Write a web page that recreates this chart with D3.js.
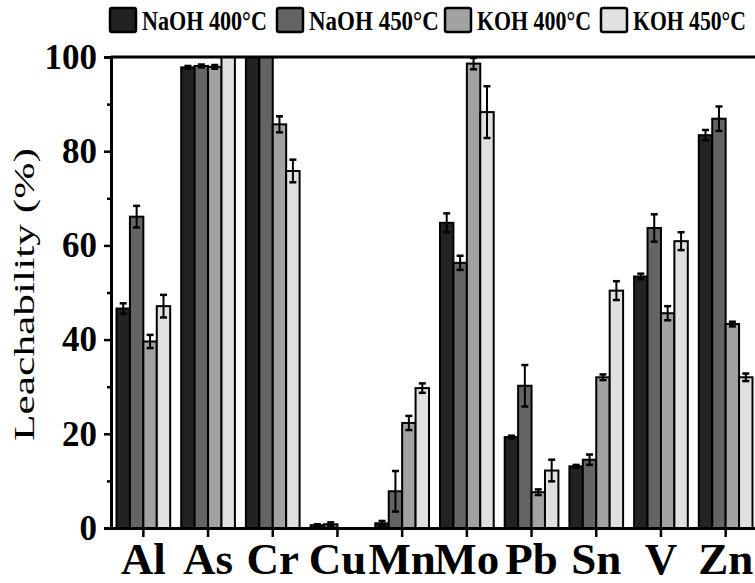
<!DOCTYPE html>
<html>
<head>
<meta charset="utf-8">
<script src="https://cdn.jsdelivr.net/npm/d3@7"></script>
<style>
  html, body { margin: 0; padding: 0; background: #fff; }
  svg { display: block; }
  text { font-family: "Liberation Serif", "Times New Roman", serif; }
</style>
</head>
<body>
<svg id="chart" width="755" height="583"></svg>
<script>
const categories = ["Al", "As", "Cr", "Cu", "Mn", "Mo", "Pb", "Sn", "V", "Zn"];
const seriesNames = ["NaOH 400°C", "NaOH 450°C", "KOH 400°C", "KOH 450°C"];
const naoh400 =    [46.6, 97.8, 100, 0.6, 1.0, 64.8, 19.3, 13.1, 53.4, 83.4];
const naoh400Err = [1.1, 0.3, 0, 0.2, 0.5, 2.0, 0.3, 0.3, 0.6, 1.1];
const naoh450 =    [66.1, 98.1, 100, 0.8, 7.8, 56.3, 30.2, 14.5, 63.7, 86.9];
const naoh450Err = [2.3, 0.3, 0, 0.4, 4.3, 1.5, 4.4, 1.1, 2.9, 2.6];
const koh400 =     [39.6, 97.9, 85.7, 0, 22.3, 98.6, 7.6, 32.0, 45.6, 43.3];
const koh400Err =  [1.4, 0.4, 1.7, 0, 1.5, 1.2, 0.6, 0.6, 1.5, 0.5];
const koh450 =     [47.1, 100, 75.8, 0, 29.7, 88.3, 12.2, 50.4, 60.9, 32.0];
const koh450Err =  [2.4, 0, 2.4, 0, 1.0, 5.5, 2.3, 2.0, 1.9, 0.8];
const yTicks = [0, 20, 40, 60, 80, 100];
const yMinorTicks = [10, 30, 50, 70, 90];
const yTitle = "Leachability (%)";

const seriesValues = [naoh400, naoh450, koh400, koh450];
const seriesErrors = [naoh400Err, naoh450Err, koh400Err, koh450Err];
const colors = ["#222222", "#646464", "#a2a2a2", "#e0e0e0"];

const svg = d3.select("#chart");
const mLeft = 111, mTop = 57, mBottom = 528, mRight = 758;

const x = d3.scaleBand().domain(categories).range([mLeft, mRight])
  .paddingInner(0.17).paddingOuter(0.085);
const x1 = d3.scaleBand().domain(seriesNames).range([0, x.bandwidth()]).padding(0);
const y = d3.scaleLinear().domain([0, 100]).range([mBottom, mTop]);

svg.append("clipPath").attr("id", "plotclip")
  .append("rect").attr("x", mLeft).attr("y", mTop).attr("width", mRight - mLeft).attr("height", mBottom - mTop);

const plot = svg.append("g").attr("clip-path", "url(#plotclip)");

const rows = [];
categories.forEach((c, i) => {
  seriesNames.forEach((s, j) => {
    rows.push({ cat: c, ser: s, j: j, v: seriesValues[j][i], e: seriesErrors[j][i] });
  });
});

plot.selectAll("rect.bar").data(rows.filter(d => d.v > 0)).join("rect")
  .attr("class", "bar")
  .attr("x", d => x(d.cat) + x1(d.ser))
  .attr("y", d => y(d.v))
  .attr("width", x1.bandwidth())
  .attr("height", d => y(0) - y(d.v))
  .attr("fill", d => colors[d.j])
  .attr("stroke", "#000")
  .attr("stroke-width", 2);

const eb = plot.selectAll("g.err").data(rows.filter(d => d.e > 0)).join("g").attr("class", "err");
const cx = d => x(d.cat) + x1(d.ser) + x1.bandwidth() / 2;
eb.append("line")
  .attr("x1", cx).attr("x2", cx)
  .attr("y1", d => y(d.v + d.e)).attr("y2", d => y(d.v - d.e))
  .attr("stroke", "#000").attr("stroke-width", 2);
[1, -1].forEach(sgn => {
  eb.append("line")
    .attr("x1", d => cx(d) - 3.5).attr("x2", d => cx(d) + 3.5)
    .attr("y1", d => y(d.v + sgn * d.e)).attr("y2", d => y(d.v + sgn * d.e))
    .attr("stroke", "#000").attr("stroke-width", 2.5);
});

// Frame lines
svg.append("line").attr("x1", mLeft).attr("x2", mRight).attr("y1", mTop).attr("y2", mTop)
  .attr("stroke", "#000").attr("stroke-width", 3);
svg.append("line").attr("x1", mRight).attr("x2", mRight).attr("y1", mTop).attr("y2", mBottom)
  .attr("stroke", "#000").attr("stroke-width", 3);

// Y axis
const yAxis = svg.append("g").attr("transform", `translate(${mLeft},0)`)
  .call(d3.axisLeft(y).tickValues(yTicks).tickSize(7).tickPadding(7).tickFormat(d3.format("d")));
yAxis.select(".domain").attr("stroke-width", 3);
yAxis.selectAll(".tick line").attr("stroke-width", 2.5);
yAxis.selectAll("text").attr("font-size", 35).attr("font-weight", "bold")
  .attr("font-family", "Liberation Serif, serif").attr("fill", "#000");
const yMinor = svg.append("g").attr("transform", `translate(${mLeft},0)`)
  .call(d3.axisLeft(y).tickValues(yMinorTicks).tickSize(4).tickFormat(""));
yMinor.select(".domain").remove();
yMinor.selectAll(".tick line").attr("stroke-width", 2.5);

// X axis
const xAxis = svg.append("g").attr("transform", `translate(0,${mBottom})`)
  .call(d3.axisBottom(x).tickSize(9).tickSizeOuter(0));
xAxis.select(".domain").attr("stroke-width", 3);
xAxis.selectAll(".tick line").attr("stroke-width", 2.5);
xAxis.selectAll("text").attr("font-size", 45).attr("font-weight", "bold")
  .attr("font-family", "Liberation Serif, serif").attr("fill", "#000")
  .attr("y", 46).attr("dy", 0);

// Y title (stretched along its length as in the reference)
const titleFs = 29;
const title = svg.append("text")
  .attr("text-anchor", "middle")
  .attr("font-size", titleFs)
  .text(yTitle);
const natLen = title.node().getComputedTextLength();
title.attr("transform", `translate(34,294.5) rotate(-90) scale(${293 / natLen},1)`);

// Legend
const legSquareX = [110, 277, 445, 601];
const legTextLen = [125, 130, 114, 113];
const legend = svg.append("g");
seriesNames.forEach((s, j) => {
  legend.append("rect")
    .attr("x", legSquareX[j]).attr("y", 8).attr("width", 26).attr("height", 24)
    .attr("rx", 2)
    .attr("fill", colors[j]).attr("stroke", "#000").attr("stroke-width", 2.5);
  const t = legend.append("text")
    .attr("font-size", 22).attr("font-weight", "bold")
    .text(s);
  const w = t.node().getComputedTextLength();
  t.attr("transform", `translate(${legSquareX[j] + 32},30) scale(${legTextLen[j] / w},1.2)`);
});
</script>
</body>
</html>
